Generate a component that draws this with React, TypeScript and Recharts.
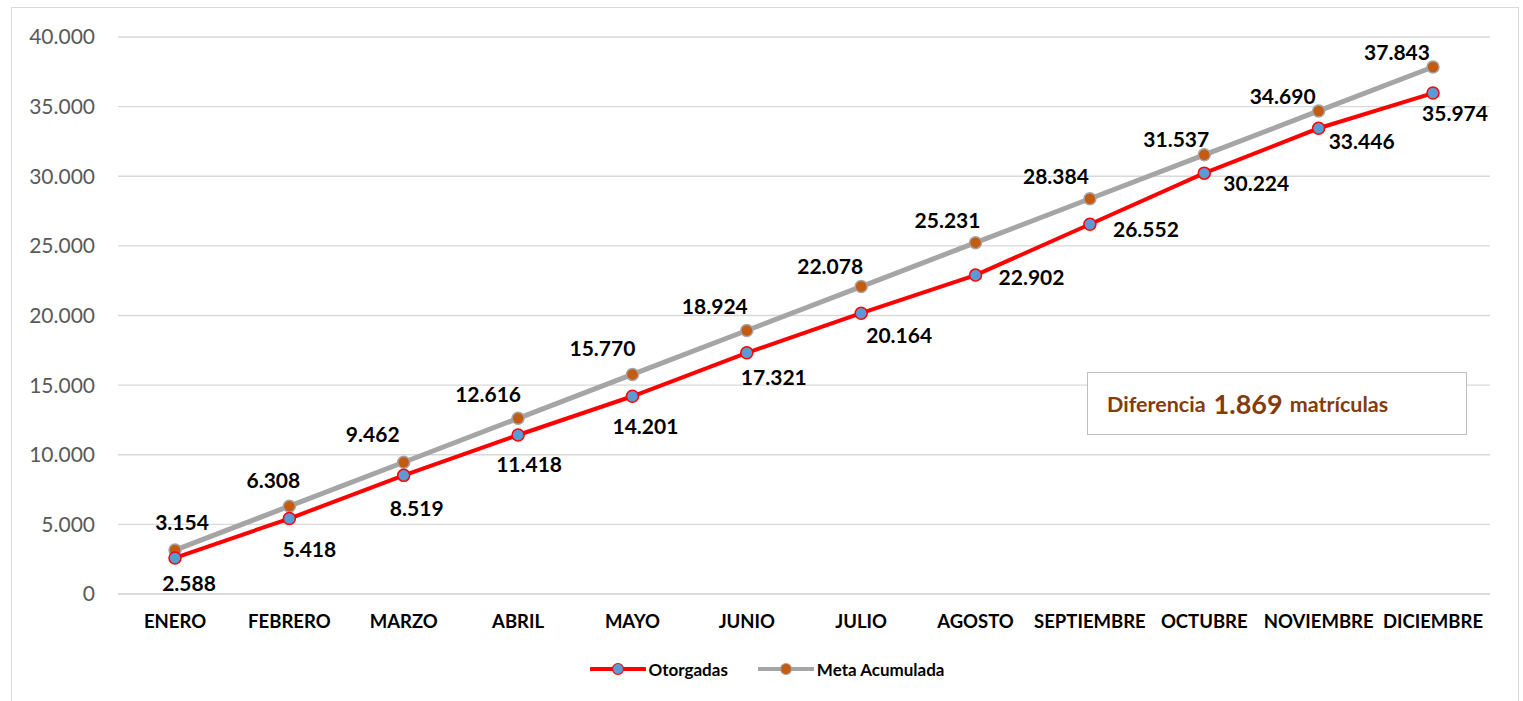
import React from 'react';
import { LineChart, Line, XAxis, YAxis, CartesianGrid, Legend, LabelList } from 'recharts';

const MONTHS = ['ENERO', 'FEBRERO', 'MARZO', 'ABRIL', 'MAYO', 'JUNIO', 'JULIO', 'AGOSTO', 'SEPTIEMBRE', 'OCTUBRE', 'NOVIEMBRE', 'DICIEMBRE'];
const OTORGADAS = [2588, 5418, 8519, 11418, 14201, 17321, 20164, 22902, 26552, 30224, 33446, 35974];
const META = [3154, 6308, 9462, 12616, 15770, 18924, 22078, 25231, 28384, 31537, 34690, 37843];
const Y_TICKS = [0, 5000, 10000, 15000, 20000, 25000, 30000, 35000, 40000];
const DIFERENCIA = 1869;

// label nudges (pixels), same as the hand-placed labels in the original
const OTORG_DX = [14, 20, 13, 11, 13, 27, 38, 56, 56, 52, 43, 22];
const OTORG_DY = [25, 30, 32, 28, 29, 24, 21, 1, 4, 9, 12, 19];
const META_DX = [7, -16, -31, -30, -30, -32, -31, -28, -34, -28, -36, -36];
const META_DY = [-29, -27, -29, -25, -27, -25, -21, -23, -23, -16, -15, -16];

const data = MONTHS.map((m, i) => ({ month: m, otorgadas: OTORGADAS[i], meta: META[i] }));

const fmt = (v: number) => String(v).replace(/\B(?=(\d{3})+(?!\d))/g, '.');

const FONT = 'Lato, "Open Sans", sans-serif';

const makeLabel = (dxs: number[], dys: number[]) => (props: any) => {
  const { x, y, value, index } = props;
  return (
    <text
      x={x + dxs[index]}
      y={y + dys[index]}
      textAnchor="middle"
      dominantBaseline="central"
      fontFamily={FONT}
      fontWeight={700}
      fontSize={21}
      fill="#000"
    >
      {fmt(value)}
    </text>
  );
};

const LegendContent = () => {
  const items = [
    { name: 'Otorgadas', line: '#ff0000', fill: '#5b9bd5', stroke: '#ff0000' },
    { name: 'Meta Acumulada', line: '#a5a5a5', fill: '#c55a11', stroke: '#a5a5a5' },
  ];
  return (
    <div style={{ display: 'flex', justifyContent: 'center', height: 24, alignItems: 'center', gap: 30, marginLeft: 32 }}>
      {items.map((it) => (
        <div key={it.name} style={{ display: 'flex', alignItems: 'center' }}>
          <svg width={56} height={16}>
            <line x1={1} y1={8} x2={55} y2={8} stroke={it.line} strokeWidth={4} strokeLinecap="round" />
            <circle cx={28} cy={8} r={5.5} fill={it.fill} stroke={it.stroke} strokeWidth={1.2} />
          </svg>
          <span style={{ fontFamily: FONT, fontWeight: 700, fontSize: 17, color: '#000', marginLeft: 3 }}>{it.name}</span>
        </div>
      ))}
    </div>
  );
};

export default function App() {
  return (
    <div
      style={{
        position: 'absolute',
        left: 11,
        top: 7,
        width: 1506,
        height: 720,
        border: '1px solid #d9d9d9',
        background: '#fff',
      }}
    >
      <LineChart width={1506} height={700} data={data} margin={{ top: 29, right: 28, left: 0, bottom: 27 }}>
        <CartesianGrid vertical={false} stroke="#d9d9d9" strokeWidth={1.3} />
        <XAxis
          dataKey="month"
          height={63}
          padding={{ left: 57, right: 57 }}
          axisLine={{ stroke: '#d9d9d9', strokeWidth: 1.3 }}
          tickLine={false}
          tickMargin={15}
          tick={{ fontFamily: FONT, fontWeight: 700, fontSize: 18.5, fill: '#000' }}
          interval={0}
        />
        <YAxis
          width={106}
          domain={[0, 40000]}
          ticks={Y_TICKS}
          axisLine={false}
          tickLine={false}
          tickMargin={17}
          tickFormatter={fmt}
          tick={{ fontFamily: FONT, fontSize: 21, fill: '#595959' }}
        />
        <Legend verticalAlign="bottom" content={<LegendContent />} />
        <Line
          dataKey="meta"
          name="Meta Acumulada"
          stroke="#a5a5a5"
          strokeWidth={5}
          dot={{ r: 6, fill: '#c55a11', stroke: '#a5a5a5', strokeWidth: 1.5 }}
          isAnimationActive={false}
        >
          <LabelList dataKey="meta" content={makeLabel(META_DX, META_DY)} />
        </Line>
        <Line
          dataKey="otorgadas"
          name="Otorgadas"
          stroke="#ff0000"
          strokeWidth={4}
          dot={{ r: 6, fill: '#5b9bd5', stroke: '#ff0000', strokeWidth: 1.5 }}
          isAnimationActive={false}
        >
          <LabelList dataKey="otorgadas" content={makeLabel(OTORG_DX, OTORG_DY)} />
        </Line>
      </LineChart>
      <div
        style={{
          position: 'absolute',
          left: 1075,
          top: 364,
          width: 380,
          height: 63,
          border: '1.5px solid #bfbfbf',
          background: '#fff',
          display: 'flex',
          alignItems: 'center',
          paddingLeft: 19,
          boxSizing: 'border-box',
          fontFamily: FONT,
          fontWeight: 700,
          color: '#843c0c',
        }}
      >
        <span style={{ fontSize: 21.5 }}>Diferencia</span>
        <span style={{ fontSize: 27, marginLeft: 8, marginRight: 7 }}>{fmt(DIFERENCIA)}</span>
        <span style={{ fontSize: 21.5 }}>matrículas</span>
      </div>
    </div>
  );
}
